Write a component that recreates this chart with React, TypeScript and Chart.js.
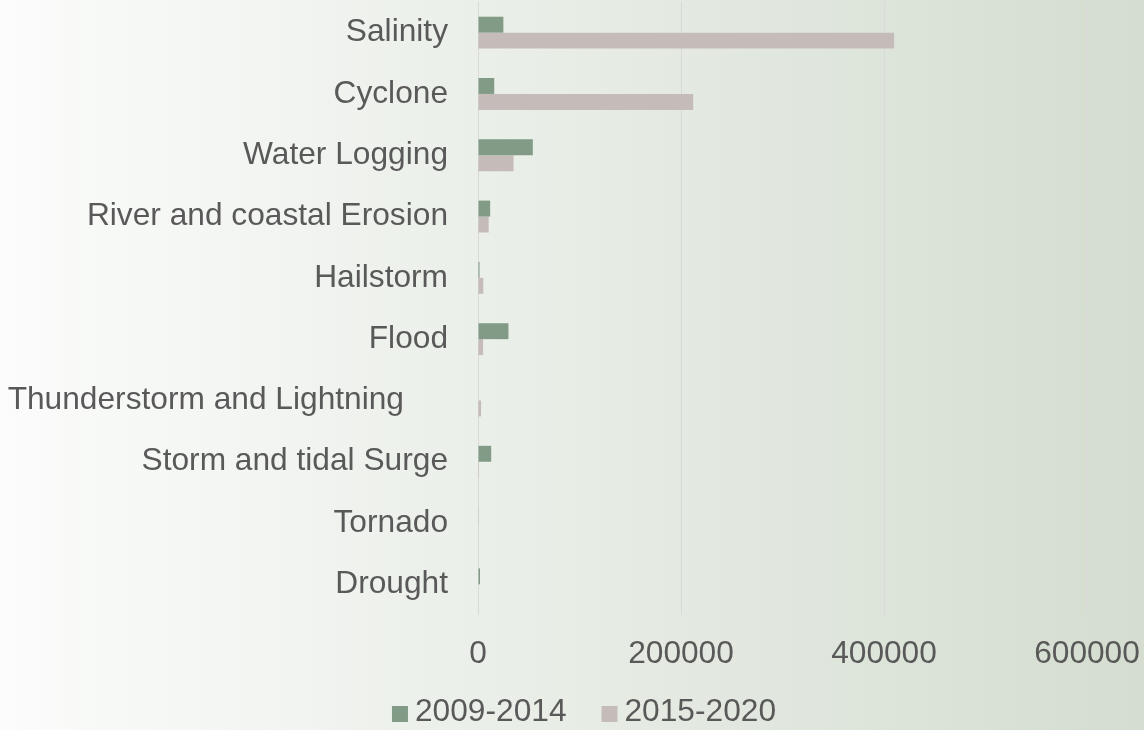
import React, { useEffect, useRef } from "react";
import { Chart, registerables } from "chart.js";

Chart.register(...registerables);

const categories = [
  "Salinity",
  "Cyclone",
  "Water Logging",
  "River and coastal Erosion",
  "Hailstorm",
  "Flood",
  "Thunderstorm and Lightning     ",
  "Storm and tidal Surge",
  "Tornado",
  "Drought",
];

const seriesLabels = ["2009-2014", "2015-2020"];
const values2009to2014 = [25000, 16000, 54000, 12000, 1500, 30000, 0, 13000, 400, 2000];
const values2015to2020 = [410000, 212000, 35000, 10500, 5200, 5000, 3000, 1000, 0, 0];
const xTickValues = [0, 200000, 400000, 600000];

const COLORS = ["#819b86", "#c5bbb8"];
const FONT_FAMILY = '"Liberation Sans", Arial, sans-serif';
const FONT_SIZE = 31.7;
const TEXT_COLOR = "#595959";

const bgPlugin = {
  id: "bgGradient",
  beforeDraw(chart: any) {
    const { ctx, width, height } = chart;
    const g = ctx.createLinearGradient(0, 0, width, 0);
    g.addColorStop(0, "#fbfcfb");
    g.addColorStop(1, "#d4ddd0");
    ctx.save();
    ctx.fillStyle = g;
    ctx.fillRect(0, 0, width, height);
    ctx.restore();
  },
};

const legendPlugin = {
  id: "customLegend",
  afterDraw(chart: any) {
    const ctx = chart.ctx;
    ctx.save();
    ctx.font = `${FONT_SIZE}px ${FONT_FAMILY}`;
    const items = chart.data.datasets.map((ds: any) => ({
      text: ds.label,
      color: ds.backgroundColor,
      w: ctx.measureText(ds.label).width,
    }));
    const box = 16;
    const gap = 7;
    const itemGap = 35;
    const total =
      items.reduce((s: number, it: any) => s + box + gap + it.w, 0) +
      itemGap * (items.length - 1);
    let x = 584 - total / 2;
    const y = 712;
    items.forEach((it: any) => {
      ctx.fillStyle = it.color;
      ctx.fillRect(x, y - 6, box, box);
      x += box + gap;
      ctx.fillStyle = TEXT_COLOR;
      ctx.textBaseline = "middle";
      ctx.textAlign = "left";
      ctx.fillText(it.text, x, y);
      x += it.w + itemGap;
    });
    ctx.restore();
  },
};

export default function App() {
  const canvasRef = useRef<HTMLCanvasElement | null>(null);

  useEffect(() => {
    if (!canvasRef.current) return;
    const chart = new Chart(canvasRef.current, {
      type: "bar",
      data: {
        labels: categories,
        datasets: [
          {
            label: seriesLabels[0],
            data: values2009to2014,
            backgroundColor: COLORS[0],
            categoryPercentage: 0.52,
            barPercentage: 1,
          },
          {
            label: seriesLabels[1],
            data: values2015to2020,
            backgroundColor: COLORS[1],
            categoryPercentage: 0.52,
            barPercentage: 1,
          },
        ],
      },
      options: {
        indexAxis: "y",
        animation: false,
        responsive: false,
        maintainAspectRatio: false,
        layout: { padding: { top: 2, right: 57, bottom: 57, left: 0 } },
        plugins: {
          legend: { display: false },
          tooltip: { enabled: false },
        },
        scales: {
          x: {
            min: 0,
            max: 600000,
            afterBuildTicks(scale: any) {
              scale.ticks = xTickValues.map((v) => ({ value: v }));
            },
            afterFit(scale: any) {
              scale.height = 58;
              scale.paddingLeft = 0;
              scale.paddingRight = 0;
            },
            grid: { color: "#d9d9d9", lineWidth: 1, drawTicks: false },
            border: { display: false },
            ticks: {
              padding: 20,
              color: TEXT_COLOR,
              font: { size: FONT_SIZE, family: FONT_FAMILY },
              maxRotation: 0,
              callback: (v: any) => String(v),
            },
          },
          y: {
            afterFit(scale: any) {
              scale.width = 478;
              scale.paddingTop = 0;
              scale.paddingBottom = 0;
            },
            grid: { display: false, drawTicks: false },
            border: { display: false },
            ticks: {
              padding: 30,
              color: TEXT_COLOR,
              font: { size: FONT_SIZE, family: FONT_FAMILY },
              autoSkip: false,
            },
          },
        },
      },
      plugins: [bgPlugin, legendPlugin],
    } as any);
    return () => chart.destroy();
  }, []);

  return (
    <div style={{ position: "fixed", left: 0, top: 0, width: 1144, height: 730 }}>
      <canvas ref={canvasRef} width={1144} height={730} style={{ display: "block" }} />
    </div>
  );
}
